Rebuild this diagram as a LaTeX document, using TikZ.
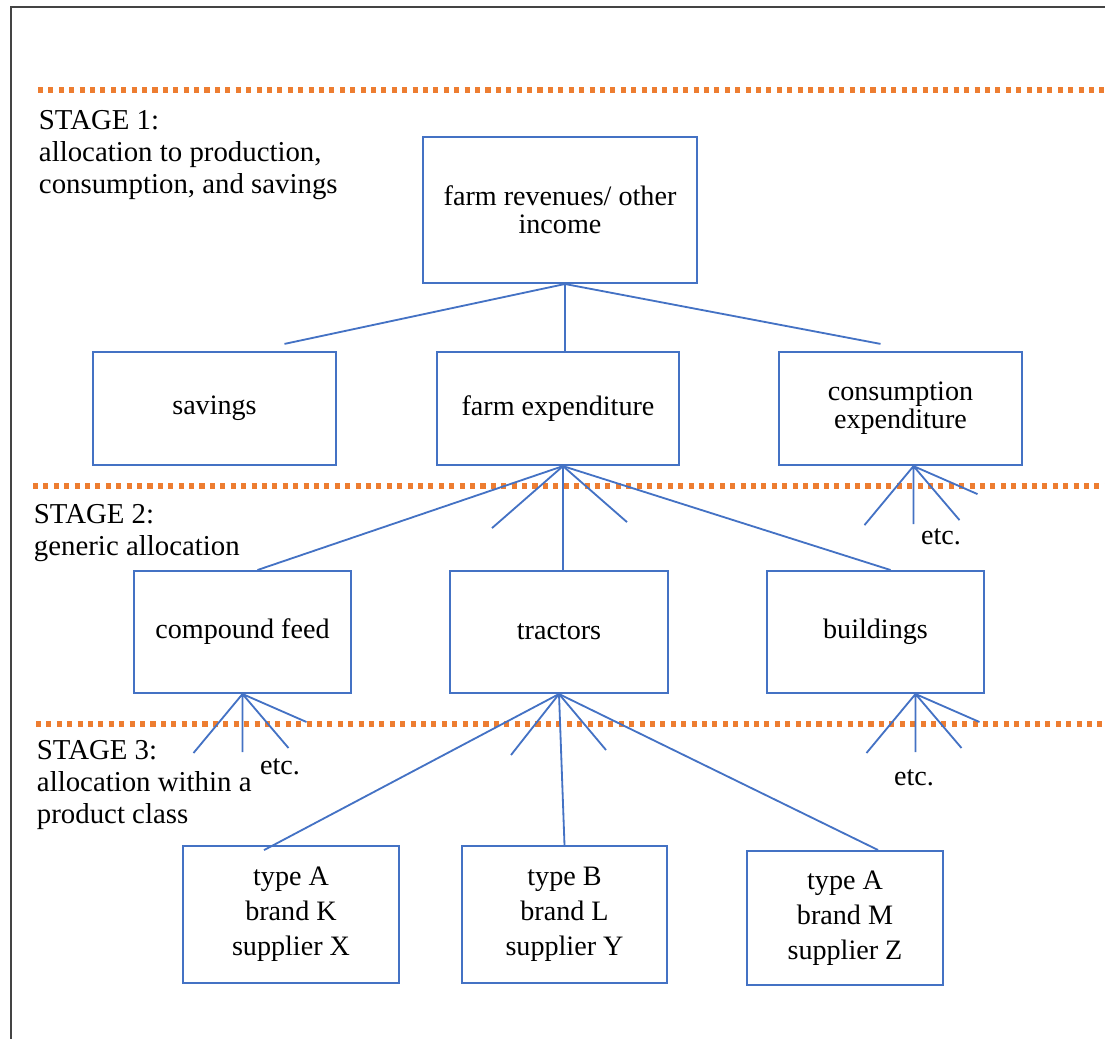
\documentclass[tikz,border=0pt]{standalone}
\usepackage{fontspec}
\setmainfont{Liberation Serif}
\usepackage{xcolor}
\usetikzlibrary{calc, positioning}

\definecolor{boxblue}{HTML}{4472C4}
\definecolor{stageorange}{HTML}{ED7D31}
\definecolor{framegray}{HTML}{444444}

\begin{document}
\begin{tikzpicture}[x=0.025cm, y=-0.025cm,
    every node/.style={font=\fontsize{20}{20}\selectfont},
    box/.style={draw=boxblue, line width=1.4pt, align=center, inner sep=2pt},
    wide/.style={box, minimum width=6.07cm, minimum height=2.83cm},
    mid/.style={box, minimum width=5.43cm, minimum height=3.05cm},
    low/.style={box, minimum height=3.42cm, font=\fontsize{20}{25}\selectfont},
    link/.style={draw=boxblue, line width=1.3pt},
    stageline/.style={stageorange, line width=3.6pt, dash pattern=on 3.6pt off 3.8pt},
    stagetext/.style={anchor=west, align=left, font=\fontsize{20.5}{23}\selectfont}]
\useasboundingbox (0,0) rectangle (1105,1039);

% Frame
\draw[framegray, line width=1pt] (11,1039) -- (11,7) -- (1105,7);

% Stage borders
\draw[stageline] (38,90) -- (1105,90);
\draw[stageline] (33,486) -- (1105,486);
\draw[stageline] (36,724) -- (1105,724);

% Stage labels
\node[stagetext] (stage1) at (34,155) {STAGE 1:\\allocation to production,\\consumption, and savings};
\node[stagetext] (stage2) at (29,533) {STAGE 2:\\generic allocation};
\node[stagetext] (stage3) at (32,785) {STAGE 3:\\allocation within a\\product class};

% Stage 1 boxes
\node[box, minimum width=6.85cm, minimum height=3.65cm] (income) at (560,210) {farm revenues/ other\\income};
\node[wide] (savings) at (214.5,408.5) {savings};
\node[wide] (farmexp) at (558,408.5) {farm expenditure};
\node[wide] (consexp) at (900.5,408.5) {consumption\\expenditure};

% Stage 2 boxes
\node[mid] (feed) at (242.5,632) {compound feed};
\node[mid] (tractors) at (559,632) {tractors};
\node[mid] (buildings) at (875.5,632) {buildings};

% Stage 3 boxes
\node[low, minimum width=5.4cm] (typeK) at (291,914.5) {type A\\brand K\\supplier X};
\node[low, minimum width=5.12cm] (typeL) at (564.5,914.5) {type B\\brand L\\supplier Y};
\node[low, minimum width=4.9cm, minimum height=3.35cm] (typeM) at (845,918) {type A\\brand M\\supplier Z};

% Links stage 1
\coordinate (incfan) at ($(income.south)+(5,0)$);
\draw[link] (incfan) -- ($(savings.north)+(70,-7)$);
\draw[link] (incfan) -- ($(farmexp.north)+(7,0)$);
\draw[link] (incfan) -- ($(consexp.north)+(-20,-7)$);

% Links stage 2
\coordinate (expfan) at ($(farmexp.south)+(5,0)$);
\draw[link] (expfan) -- ($(feed.north)+(15,0)$);
\draw[link] (expfan) -- ($(tractors.north)+(4,0)$);
\draw[link] (expfan) -- ($(buildings.north)+(15,0)$);
\draw[link] (expfan) -- ++(-71,62);
\draw[link] (expfan) -- ++(64,56);

% Links stage 3
\draw[link] (tractors.south) -- ($(typeK.north)+(-27,5)$);
\draw[link] (tractors.south) -- (typeL.north);
\draw[link] (tractors.south) -- ($(typeM.north)+(33,0)$);
\draw[link] (tractors.south) -- ++(-48,61);
\draw[link] (tractors.south) -- ++(47,56);

% Open ends
\coordinate (consfan) at ($(consexp.south)+(13,0)$);
\coordinate (feedfan) at (feed.south);
\coordinate (buildfan) at ($(buildings.south)+(40,0)$);
\foreach \f in {consfan, feedfan, buildfan} {
  \draw[link] (\f) -- ++(-49,59) (\f) -- ++(0,58) (\f) -- ++(46,54) (\f) -- ++(64,28);
}
\node (etc1) at (941,537) {etc.};
\node (etc2) at (280,767) {etc.};
\node (etc3) at (914,778) {etc.};
\end{tikzpicture}
\end{document}
